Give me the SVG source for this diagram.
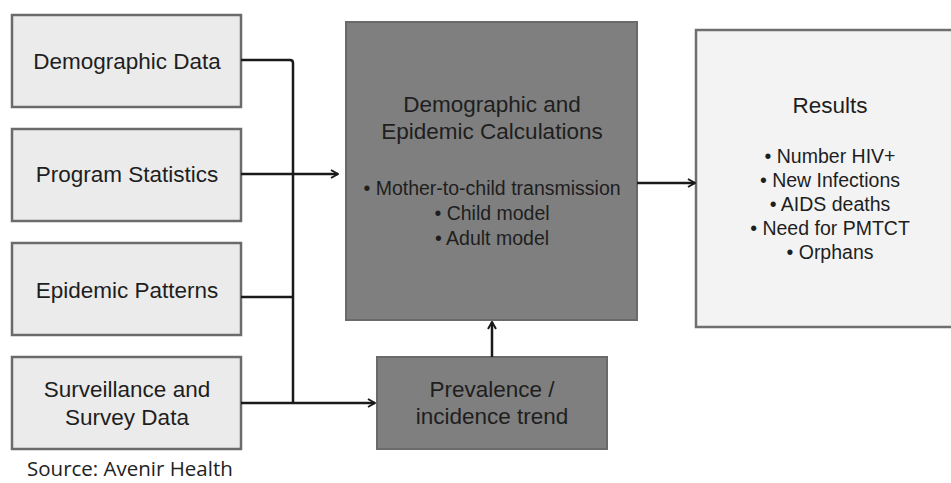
<svg xmlns="http://www.w3.org/2000/svg" width="951" height="483" viewBox="0 0 951 483">
<defs>
<style>
.in rect{fill:#ebebeb;stroke:#6b6b6b;stroke-width:2.5}
.dk rect{fill:#7f7f7f;stroke:#6a6a6a;stroke-width:2}
.res rect{fill:#f3f3f3;stroke:#6f6f6f;stroke-width:2.5}
text{font-family:"Liberation Sans",Arial,sans-serif;fill:#1e1e1e;text-anchor:middle}
.t{font-size:22.5px}
.b{font-size:19.5px}
.src{font-family:"Open Sans","Noto Sans",sans-serif;font-size:20.5px;text-anchor:start;fill:#222}
.c path{fill:none;stroke:#1a1a1a;stroke-width:2.5}
</style>
<marker id="ah" viewBox="0 0 10 10" refX="9" refY="5" markerWidth="10" markerHeight="10" markerUnits="userSpaceOnUse" orient="auto">
<path d="M2,1 L9,5 L2,9" fill="none" stroke="#1a1a1a" stroke-width="2"/>
</marker>
</defs>
<rect width="951" height="483" fill="#fff"/>
<g id="demographic-data" class="in"><rect x="12" y="15" width="229" height="92"/><text class="t" x="127" y="69">Demographic Data</text></g>
<g id="program-statistics" class="in"><rect x="12" y="129" width="229" height="92"/><text class="t" x="127" y="182">Program Statistics</text></g>
<g id="epidemic-patterns" class="in"><rect x="12" y="243" width="229" height="92"/><text class="t" x="127" y="298">Epidemic Patterns</text></g>
<g id="surveillance" class="in"><rect x="12" y="357" width="229" height="92"/><text class="t" x="127" y="397">Surveillance and</text><text class="t" x="127" y="425">Survey Data</text></g>
<g id="calculations" class="dk"><rect x="346" y="22" width="291" height="298"/>
<text class="t" x="492" y="112">Demographic and</text>
<text class="t" x="492" y="139">Epidemic Calculations</text>
<text class="b" x="492" y="195">• Mother-to-child  transmission</text>
<text class="b" x="492" y="220">• Child model</text>
<text class="b" x="492" y="245">• Adult model</text>
</g>
<g id="prevalence" class="dk"><rect x="377" y="357" width="230" height="92"/><text class="t" x="492" y="397">Prevalence /</text><text class="t" x="492" y="424">incidence trend</text></g>
<g id="results" class="res"><rect x="696" y="30" width="262" height="297"/>
<text class="t" x="830" y="113">Results</text>
<text class="b" x="830" y="163">• Number HIV+</text>
<text class="b" x="830" y="187">• New Infections</text>
<text class="b" x="830" y="211">• AIDS deaths</text>
<text class="b" x="830" y="235">• Need for PMTCT</text>
<text class="b" x="830" y="259">• Orphans</text>
</g>
<g id="connectors" class="c">
<path d="M241,60 H290 Q293,60 293,63 V403"/>
<path d="M241,297 H293"/>
<path d="M241,174 H338" marker-end="url(#ah)"/>
<path d="M241,403 H375" marker-end="url(#ah)"/>
<path d="M492,357 V322" marker-end="url(#ah)"/>
<path d="M637,183 H695" marker-end="url(#ah)"/>
</g>
<text class="src" x="27" y="476">Source: Avenir Health</text>
</svg>
